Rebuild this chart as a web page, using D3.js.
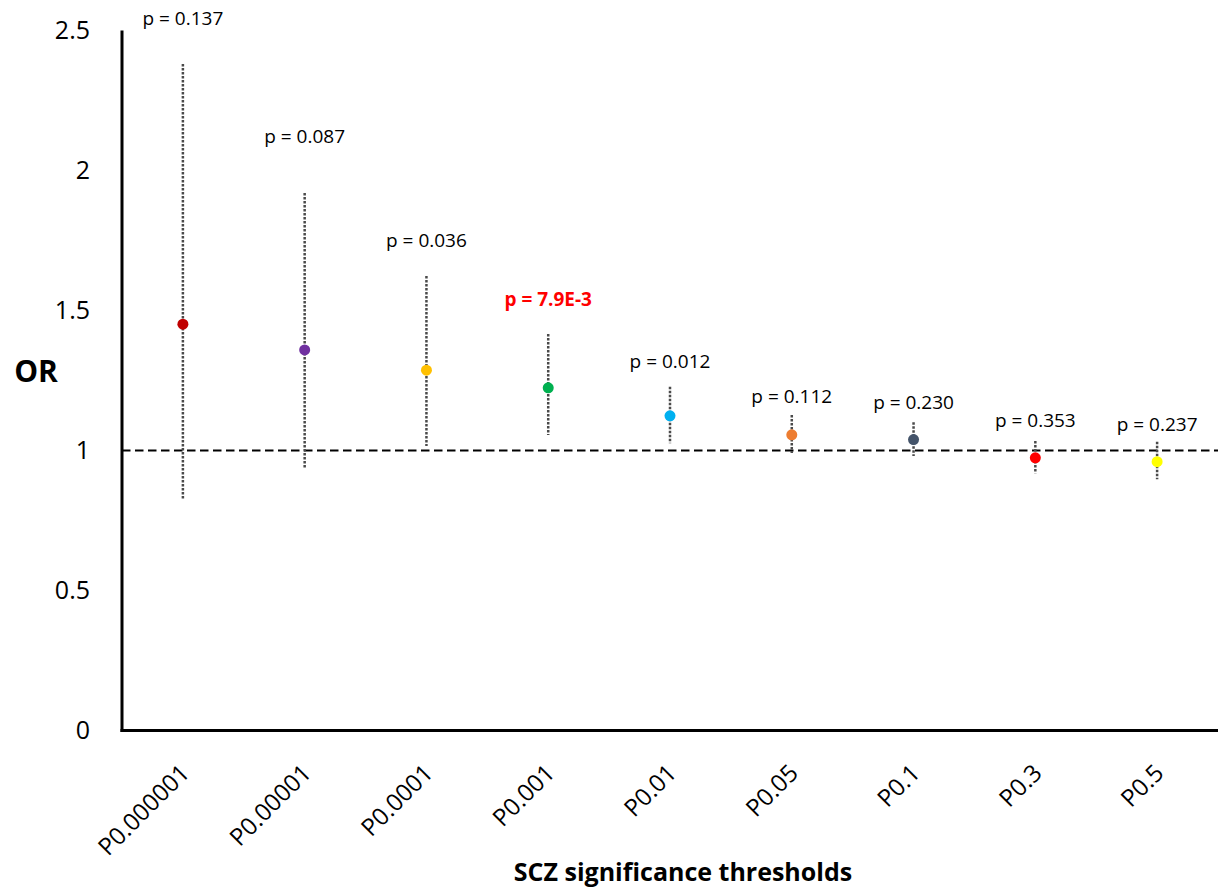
<!DOCTYPE html>
<html>
<head>
<meta charset="utf-8">
<script src="https://cdn.jsdelivr.net/npm/d3@7"></script>
<style>
  body { margin: 0; background: #fff; }
  text { font-family: "Open Sans", sans-serif; fill: #000; }
</style>
</head>
<body>
<div class="chart"></div>
<script>
// data
let thresholds = ["P0.000001", "P0.00001", "P0.0001", "P0.001", "P0.01", "P0.05", "P0.1", "P0.3", "P0.5"];
let orValues = [1.451, 1.359, 1.287, 1.224, 1.124, 1.056, 1.039, 0.974, 0.960];
let ciLower = [0.829, 0.935, 1.016, 1.055, 1.026, 0.991, 0.980, 0.919, 0.897];
let ciUpper = [2.380, 1.920, 1.623, 1.416, 1.228, 1.127, 1.101, 1.034, 1.031];
let pLabels = ["p = 0.137", "p = 0.087", "p = 0.036", "p = 7.9E-3", "p = 0.012", "p = 0.112", "p = 0.230", "p = 0.353", "p = 0.237"];
let pLabelAt = [2.52, 2.098, 1.727, 1.516, 1.295, 1.171, 1.148, 1.084, 1.070]; // label baseline, in OR units
let pointColors = ["#C00000", "#7030A0", "#FFC000", "#00B050", "#00B0F0", "#ED7D31", "#44546A", "#FF0000", "#FFFF00"];
let yTicks = [0, 0.5, 1, 1.5, 2, 2.5];

let svgWidth = 1225;
let svgHeight = 888;

let margin = {
  top: 30.5,
  right: 7,
  bottom: 157.5,
  left: 122
};

let width = svgWidth - margin.left - margin.right;
let height = svgHeight - margin.top - margin.bottom;

let data = thresholds.map((t, i) => ({
  name: t,
  or: orValues[i],
  lo: ciLower[i],
  hi: ciUpper[i],
  label: pLabels[i],
  labelAt: pLabelAt[i],
  color: pointColors[i],
  highlight: pLabels[i] === "p = 7.9E-3"
}));

let svg = d3.select(".chart")
  .append("svg")
  .attr("width", svgWidth)
  .attr("height", svgHeight);

let chartGroup = svg.append("g")
  .attr("transform", `translate(${margin.left}, ${margin.top})`);

let xScale = d3.scaleBand()
  .domain(thresholds)
  .range([0, width])
  .padding(0);

let yScale = d3.scaleLinear()
  .domain([0, 2.5])
  .range([height, 0]);

let cx = d => xScale(d.name) + xScale.bandwidth() / 2;

// y axis labels, no tick marks
let leftAxis = d3.axisLeft(yScale)
  .tickValues(yTicks)
  .tickSize(0)
  .tickPadding(32)
  .tickFormat(d3.format("~g"));

let yAxisG = chartGroup.append("g").call(leftAxis);
yAxisG.select(".domain").remove();
yAxisG.selectAll("text")
  .style("font-family", "'Open Sans', sans-serif")
  .style("font-size", "25px")
  .attr("fill", "#000");

// x axis labels rotated
let bottomAxis = d3.axisBottom(xScale).tickSize(0).tickPadding(0);
let xAxisG = chartGroup.append("g")
  .attr("transform", `translate(0, ${height})`)
  .call(bottomAxis);
xAxisG.select(".domain").remove();
xAxisG.selectAll("text")
  .style("font-family", "'Open Sans', sans-serif")
  .style("font-size", "24px")
  .attr("fill", "#000")
  .attr("text-anchor", "end")
  .attr("dy", null)
  .attr("y", 0)
  .attr("transform", "translate(8, 44) rotate(-45)");

// reference line at OR = 1
chartGroup.append("line")
  .attr("x1", 0)
  .attr("x2", width)
  .attr("y1", yScale(1))
  .attr("y2", yScale(1))
  .attr("stroke", "#000")
  .attr("stroke-width", 2)
  .attr("stroke-dasharray", "8.5,4.5");

// axis lines
chartGroup.append("line")
  .attr("x1", 0).attr("x2", 0)
  .attr("y1", yScale(2.5)).attr("y2", yScale(0) + 1.5)
  .attr("stroke", "#000").attr("stroke-width", 3);

chartGroup.append("line")
  .attr("x1", -1.5).attr("x2", width)
  .attr("y1", yScale(0)).attr("y2", yScale(0))
  .attr("stroke", "#000").attr("stroke-width", 3);

// confidence intervals
chartGroup.selectAll(".ci")
  .data(data)
  .enter()
  .append("line")
  .attr("class", "ci")
  .attr("x1", cx)
  .attr("x2", cx)
  .attr("y1", d => yScale(d.hi))
  .attr("y2", d => yScale(d.lo))
  .attr("stroke", "#4a4a4a")
  .attr("stroke-width", 2.5)
  .attr("stroke-dasharray", "2.5,1.5");

// points
chartGroup.selectAll(".pt")
  .data(data)
  .enter()
  .append("circle")
  .attr("class", "pt")
  .attr("cx", cx)
  .attr("cy", d => yScale(d.or))
  .attr("r", 5.5)
  .attr("fill", d => d.color);

// p-value labels
chartGroup.selectAll(".plabel")
  .data(data)
  .enter()
  .append("text")
  .attr("class", "plabel")
  .attr("x", cx)
  .attr("y", d => yScale(d.labelAt))
  .attr("text-anchor", "middle")
  .style("font-size", "19px")
  .style("font-weight", d => d.highlight ? "bold" : "normal")
  .style("fill", d => d.highlight ? "#FF0000" : "#000")
  .text(d => d.label);

// axis titles
chartGroup.append("text")
  .attr("x", -margin.left + 36)
  .attr("y", yScale(1.245))
  .attr("text-anchor", "middle")
  .style("font-size", "30px")
  .style("font-weight", "bold")
  .text("OR");

chartGroup.append("text")
  .attr("x", 683 - margin.left)
  .attr("y", 881 - margin.top)
  .attr("text-anchor", "middle")
  .style("font-size", "25px")
  .style("font-weight", "bold")
  .text("SCZ significance thresholds");
</script>
</body>
</html>
